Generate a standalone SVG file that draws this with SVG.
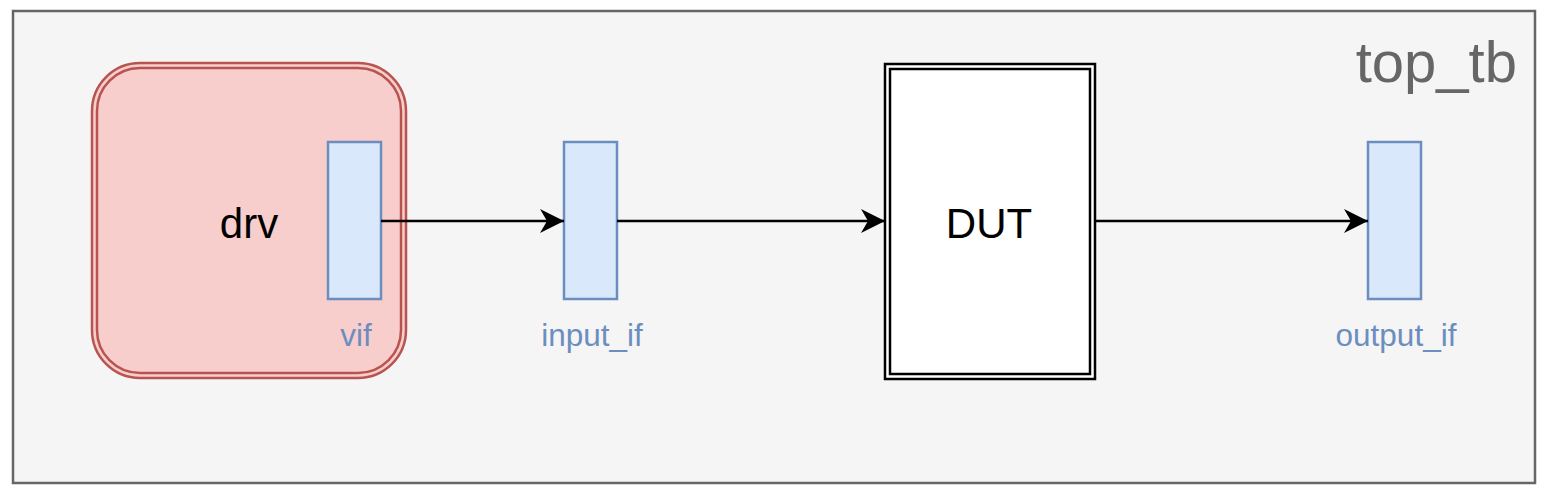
<svg xmlns="http://www.w3.org/2000/svg" width="1555" height="493" viewBox="0 0 1555 493">
<defs>
<style>
text{font-family:"Liberation Sans",Arial,sans-serif}
.port{fill:#dae8fc;stroke:#6c8ebf;stroke-width:2.5}
.plabel{fill:#6c8ebf;font-size:31.5px;text-anchor:middle}
.conn{stroke:#000;stroke-width:2.5;fill:none}
</style>
<marker id="arr" viewBox="0 0 24 24" refX="24" refY="12" markerWidth="24" markerHeight="24" markerUnits="userSpaceOnUse" orient="auto">
<path d="M0,0 L24,12 L0,24 L7,12 Z" fill="#000"/>
</marker>
</defs>
<g id="top_tb">
<rect x="13" y="11" width="1522" height="472" fill="#f5f5f5" stroke="#666666" stroke-width="2.5"/>
<text x="1517" y="82" font-size="58" fill="#666666" text-anchor="end">top_tb</text>
</g>
<g id="drv">
<rect x="92" y="63" width="314" height="315" rx="48" ry="48" fill="#f8cecc" stroke="#b85450" stroke-width="2.5"/>
<rect x="97" y="68" width="304" height="305" rx="43" ry="43" fill="none" stroke="#b85450" stroke-width="2.5"/>
<text x="249" y="238" font-size="42" fill="#000" text-anchor="middle">drv</text>
</g>
<g id="vif">
<rect class="port" x="328" y="142" width="53" height="157"/>
<text class="plabel" x="356" y="346">vif</text>
</g>
<g id="input_if">
<rect class="port" x="564" y="142" width="53" height="157"/>
<text class="plabel" x="592" y="346">input_if</text>
</g>
<g id="DUT">
<rect x="885" y="64" width="210" height="315" fill="#ffffff" stroke="#000" stroke-width="2.5"/>
<rect x="890" y="69" width="200" height="305" fill="none" stroke="#000" stroke-width="2.5"/>
<text x="989" y="238" font-size="42" fill="#000" text-anchor="middle">DUT</text>
</g>
<g id="output_if">
<rect class="port" x="1368" y="142" width="53" height="157"/>
<text class="plabel" x="1396" y="346">output_if</text>
</g>
<g id="connectors">
<line class="conn" x1="381" y1="221" x2="564" y2="221" marker-end="url(#arr)"/>
<line class="conn" x1="617" y1="221" x2="885" y2="221" marker-end="url(#arr)"/>
<line class="conn" x1="1095" y1="221" x2="1368" y2="221" marker-end="url(#arr)"/>
</g>
</svg>
